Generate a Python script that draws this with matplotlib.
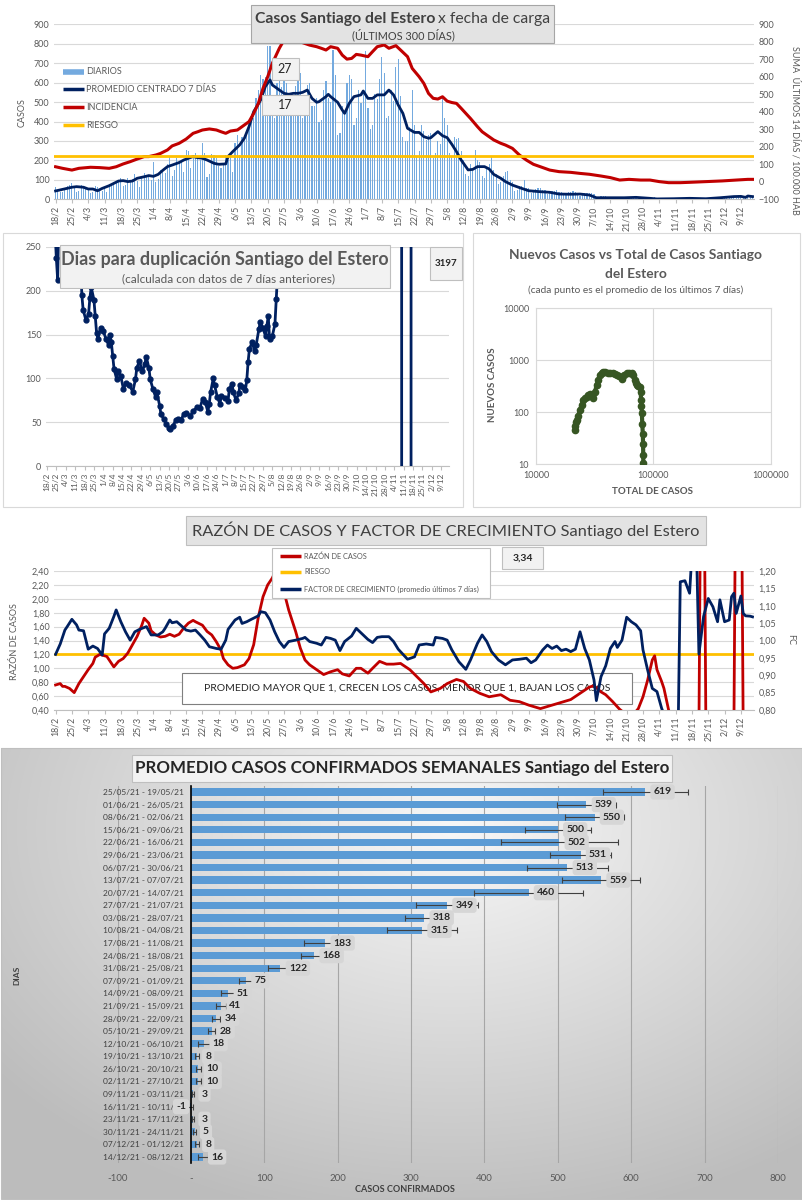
import numpy as np
import pandas as pd
import matplotlib
matplotlib.use('Agg')
import matplotlib.pyplot as plt
from matplotlib.patches import Rectangle
from matplotlib.lines import Line2D
from matplotlib.ticker import FuncFormatter, NullLocator

plt.rcParams['font.family'] = ['Lato', 'DejaVu Sans']

# ---------------- datos ----------------
inicio = '2021-02-18'
n_dias = 300

# casos diarios (barras), desde 18/2
diarios = [62, 48, 35, 40, 58, 68,
           72, 85, 60, 40, 42, 75, 60,
           55, 48, 30, 38, 70, 62, 50,
           45, 58, 40, 62, 78, 88, 85,
           100, 110, 70, 72, 108, 100, 105,
           130, 95, 65, 110, 135, 125, 120,
           100, 190, 88, 105, 150, 140, 135,
           180, 215, 120, 150, 210, 195, 190,
           140, 255, 250, 160, 230, 240, 225,
           200, 290, 240, 115, 130, 235, 230,
           210, 170, 160, 175, 230, 200, 215,
           140, 290, 330, 230, 320, 310, 330,
           380, 400, 420, 520, 560, 640, 620,
           630, 790, 790, 450, 420, 600, 650,
           580, 620, 600, 430, 440, 520, 583,
           680, 650, 420, 430, 590, 600, 480,
           480, 520, 400, 410, 560, 610, 520,
           500, 770, 640, 330, 340, 480, 454,
           600, 640, 620, 380, 420, 560, 497,
           560, 765, 470, 360, 380, 540, 516,
           620, 730, 650, 420, 430, 560, 503,
           680, 720, 530, 320, 300, 300, 370,
           560, 380, 220, 250, 380, 350, 303,
           330, 340, 210, 240, 300, 286, 520,
           420, 380, 240, 220, 320, 310, 315,
           250, 200, 130, 120, 180, 150, 251,
           200, 190, 120, 110, 160, 180, 216,
           150, 130, 80, 90, 120, 140, 144,
           100, 90, 45, 50, 70, 70, 100,
           60, 58, 30, 35, 55, 60, 59,
           50, 48, 25, 30, 45, 42, 47,
           40, 38, 20, 25, 38, 35, 42,
           35, 30, 15, 22, 32, 30, 32,
           30, 25, 10, 12, 15, 18, 16,
           10, 8, 4, 6, 10, 8, 10,
           12, 10, 6, 7, 12, 11, 12,
           14, 12, 6, 7, 10, 9, 12,
           5, 4, 1, 2, 3, 3, 3,
           2, 1, -15, 1, 1, 2, 1,
           5, 3, 2, 2, 4, 3, 2,
           6, 5, 3, 4, 6, 5, 6,
           10, 9, 5, 6, 10, 8, 8,
           20, 18, 10, 12, 22, 16, 14]

# promedio centrado 7 dias (dia, valor)
prom_dias = [0, 3, 7, 9, 12, 14, 16, 18, 20, 23, 25, 27, 29, 31, 33, 35, 38, 40, 42, 44,
             46, 48, 50, 53, 55, 57, 59, 61, 63, 65, 68, 70, 73, 74, 76, 79, 81, 83, 85, 88,
             90, 92, 93, 96, 98, 100, 102, 104, 106, 108, 110, 112, 113, 116, 117, 118, 121, 123, 124, 126,
             128, 131, 132, 134, 136, 138, 141, 143, 145, 147, 149, 151, 154, 156, 158, 160, 161, 164, 166, 168,
             170, 172, 174, 177, 179, 181, 184, 186, 188, 191, 193, 196, 200, 203, 208, 212, 216, 221, 225, 229,
             232, 236, 244, 249, 255, 258, 265, 272, 279, 285, 291, 294, 296, 297, 299]
prom_vals = [43, 51, 62, 65, 62, 53, 53, 44, 56, 70, 82, 94, 96, 91, 94, 108, 116, 122, 118, 128,
             149, 168, 176, 189, 202, 211, 220, 214, 211, 202, 185, 180, 182, 220, 245, 280, 314, 374, 451, 511,
             580, 614, 588, 562, 545, 540, 545, 545, 550, 562, 519, 499, 502, 528, 540, 528, 499, 459, 442, 494,
             528, 537, 557, 519, 519, 537, 537, 562, 537, 485, 442, 365, 344, 344, 322, 314, 317, 348, 327, 317,
             283, 245, 202, 151, 154, 168, 168, 156, 128, 108, 91, 73, 56, 44, 39, 36, 27, 26, 27, 22,
             8, 8, 8, 10, 5, 2, 3, 5, 3, 8, 14, 15, 10, 17, 14]

# incidencia: suma 14 dias / 100.000 hab (dia, valor)
incid_dias = [0, 3, 7, 10, 15, 19, 23, 26, 29, 32, 35, 38, 40, 43, 45, 48, 50, 53, 56, 59,
              61, 63, 66, 69, 71, 73, 75, 78, 80, 83, 85, 87, 89, 91, 93, 96, 98, 100, 102, 104,
              106, 109, 112, 114, 116, 118, 121, 123, 125, 127, 129, 131, 134, 136, 138, 141, 143, 146, 148, 151,
              153, 156, 158, 160, 162, 164, 166, 168, 170, 172, 174, 176, 178, 181, 183, 185, 188, 191, 193, 196,
              199, 202, 205, 208, 212, 216, 221, 225, 229, 234, 238, 242, 246, 251, 255, 259, 263, 268, 272, 279,
              286, 292, 297, 299]
incid_vals = [86, 77, 67, 77, 83, 81, 77, 86, 102, 115, 130, 144, 144, 153, 162, 182, 205, 220, 244, 277,
              286, 296, 302, 296, 286, 277, 290, 296, 315, 344, 391, 448, 534, 600, 677, 763, 810, 840, 850, 830,
              795, 781, 772, 763, 753, 772, 763, 724, 701, 705, 728, 724, 715, 744, 772, 782, 763, 778, 753, 715,
              648, 600, 562, 505, 477, 473, 486, 461, 453, 448, 420, 391, 362, 315, 286, 267, 239, 220, 210, 191,
              153, 124, 100, 86, 67, 58, 54, 48, 43, 33, 24, 10, 14, 10, 10, 1, -5, -5, -3, 1,
              5, 10, 14, 14]
riesgo_incid = 150
etiquetas_sup = ['27', '17']

# dias para duplicacion (dia, valor)
dup_dias = [5, 7, 8, 9, 15, 20, 24, 26, 27, 29, 31, 32, 33, 35, 36, 37, 38, 40, 42, 44,
            46, 47, 48, 49, 50, 52, 53, 55, 57, 59, 61, 64, 66, 67, 69, 71, 73, 74, 76, 77,
            79, 81, 82, 84, 85, 87, 89, 91, 92, 94, 96, 98, 100, 102, 104, 107, 109, 112, 114, 116,
            118, 120, 121, 122, 124, 125, 127, 129, 130, 133, 135, 136, 138, 139, 141, 143, 144, 146, 148, 149,
            150, 151, 153, 155, 156, 158, 159, 161, 163, 164, 165, 166, 168, 170, 171, 172, 173, 175, 190, 220,
            250, 264, 265, 271, 272, 285, 299]
dup_vals = [300, 237, 212, 300, 320, 300, 280, 195, 178, 167, 173, 192, 204, 190, 171, 152, 145, 158, 154, 145,
            138, 150, 141, 126, 111, 99, 108, 103, 88, 95, 93, 85, 99, 112, 120, 108, 116, 125, 112, 99,
            88, 79, 84, 69, 59, 54, 48, 43, 42, 46, 52, 54, 53, 59, 61, 57, 63, 67, 66, 76,
            73, 62, 71, 84, 100, 92, 79, 71, 80, 78, 74, 88, 94, 84, 75, 83, 93, 90, 87, 98,
            119, 134, 141, 131, 138, 156, 164, 158, 148, 160, 171, 145, 148, 162, 191, 221, 244, 300, 600, 1500,
            4000, 9000, -9000, -9000, 9000, 5000, 3197]
dup_ultimo = '3197'

# nuevos casos vs total (promedio 7 dias)
sc_total = [21500, 21700, 22000, 22200, 22900, 23700, 24500, 25300, 26200, 27100, 28000, 28900, 29800, 30800,
            31800, 32900, 34000, 35100, 36200, 37400, 39000, 40800, 42800, 45000, 46900, 48800, 51000, 53800,
            56500, 59300, 62300, 65400, 67600, 69800, 71000, 72300, 74600, 77000, 78000, 78600, 79200, 79800,
            80500, 81300, 81700, 82000, 82100]
sc_nuevos = [46, 55, 66, 71, 85, 111, 140, 173, 190, 199, 215, 225, 210, 186,
             250, 334, 420, 522, 580, 604, 590, 575, 566, 560, 545, 522, 500, 430,
             520, 566, 570, 580, 520, 419, 360, 334, 320, 300, 250, 173, 130, 95,
             60, 39, 25, 15, 10.5]

# razon de casos (dia, valor)
razon_dias = [0, 2, 3, 4, 6, 8, 10, 12, 14, 16, 17, 19, 22, 25, 27, 29, 31, 33, 35, 37,
              38, 40, 41, 43, 45, 47, 49, 51, 53, 55, 57, 59, 60, 63, 65, 67, 69, 71, 72, 74,
              76, 78, 81, 83, 85, 87, 89, 91, 93, 95, 97, 98, 100, 103, 105, 107, 109, 112, 115, 118,
              121, 123, 126, 129, 131, 134, 136, 139, 142, 145, 148, 152, 155, 158, 161, 165, 168, 172, 175, 178,
              182, 186, 191, 195, 199, 203, 208, 212, 216, 221, 225, 229, 231, 234, 236, 239, 242, 245, 248, 250,
              252, 254, 256, 257, 258, 260, 261, 263, 266, 270, 276, 277, 278, 279, 280, 285, 290, 291, 292, 294,
              295, 297, 299]
razon_vals = [0.76, 0.78, 0.74, 0.74, 0.71, 0.65, 0.78, 0.88, 0.98, 1.07, 1.16, 1.20, 1.17, 1.02, 1.10, 1.14, 1.22, 1.34, 1.46, 1.62,
              1.72, 1.65, 1.54, 1.48, 1.45, 1.46, 1.49, 1.46, 1.49, 1.58, 1.65, 1.69, 1.67, 1.62, 1.53, 1.48, 1.38, 1.26, 1.14, 1.05,
              1.00, 1.01, 1.05, 1.14, 1.34, 1.74, 2.03, 2.20, 2.30, 2.45, 2.30, 2.10, 1.84, 1.53, 1.29, 1.12, 1.05, 0.98, 0.91, 0.95,
              0.98, 0.92, 0.89, 1.00, 1.00, 0.93, 1.00, 1.10, 1.06, 1.06, 1.07, 0.98, 0.88, 0.78, 0.66, 0.71, 0.78, 0.84, 0.81, 0.71,
              0.64, 0.59, 0.62, 0.54, 0.52, 0.47, 0.42, 0.46, 0.50, 0.55, 0.64, 0.73, 0.75, 0.66, 0.62, 0.52, 0.41, 0.33, 0.34, 0.42,
              0.59, 0.83, 1.12, 1.18, 0.98, 0.81, 0.71, 0.40, 0.20, 0.15, 0.10, 5.0, 5.0, 0.10, 0.15, 0.20, 0.15, 0.10, 5.0, 5.0,
              0.10, 0.20, 0.25]
riesgo_razon = 1.2
razon_ultimo = '3,34'

# factor de crecimiento (dia, valor)
fc_dias = [0, 2, 4, 5, 7, 9, 10, 12, 14, 16, 18, 20, 21, 23, 25, 26, 28, 30, 32, 34,
           36, 39, 41, 44, 46, 47, 49, 50, 52, 54, 56, 58, 60, 62, 64, 66, 69, 71, 73, 74,
           77, 79, 80, 82, 84, 87, 88, 90, 92, 94, 96, 98, 100, 103, 106, 107, 109, 112, 114, 116,
           118, 120, 122, 124, 127, 129, 132, 134, 136, 138, 140, 143, 145, 147, 151, 154, 156, 159, 162, 163,
           166, 168, 170, 173, 176, 178, 181, 183, 185, 187, 190, 193, 196, 199, 202, 204, 206, 209, 211, 213,
           215, 217, 219, 221, 223, 225, 227, 229, 231, 232, 234, 236, 238, 240, 241, 243, 245, 247, 249, 251,
           252, 254, 256, 258, 260, 262, 264, 266, 267, 268, 270, 272, 273, 275, 276, 278, 280, 282, 284, 285,
           287, 289, 290, 291, 292, 294, 295, 296, 298, 299]
fc_vals = [0.96, 0.99, 1.03, 1.04, 1.061, 1.045, 1.03, 1.028, 0.975, 0.984, 0.977, 0.958, 1.019, 1.035, 1.069, 1.088, 1.054, 1.025, 1.001, 1.025,
           1.032, 1.04, 1.016, 1.016, 1.025, 1.035, 1.059, 1.051, 1.054, 1.042, 1.03, 1.027, 1.03, 1.016, 1.001, 0.982, 0.977, 0.975, 1.001, 1.032,
           1.059, 1.067, 1.049, 1.054, 1.061, 1.071, 1.083, 1.08, 1.059, 1.025, 0.997, 0.98, 0.997, 1.001, 1.006, 1.009, 0.997, 0.992, 0.987, 1.009,
           1.006, 1.001, 0.971, 0.997, 1.013, 1.035, 1.016, 1.003, 0.994, 1.009, 1.011, 1.011, 0.997, 0.975, 0.946, 0.953, 0.987, 0.99, 0.987, 1.009,
           1.006, 1.001, 0.973, 0.939, 0.917, 0.944, 0.992, 1.016, 0.997, 0.968, 0.944, 0.93, 0.944, 0.946, 0.949, 0.936, 0.944, 0.973, 0.987, 0.977,
           0.984, 0.971, 0.975, 0.968, 0.975, 1.025, 0.977, 0.944, 0.886, 0.827, 0.896, 0.927, 0.977, 0.997, 0.98, 1.001, 1.067, 1.054, 1.045, 1.028,
           0.973, 0.915, 0.862, 0.853, 0.805, 0.77, 0.70, 0.65, 0.70, 1.169, 1.172, 1.136, 1.25, 1.25, 0.961, 1.069, 1.121, 1.097, 1.054, 1.117,
           1.054, 1.059, 1.126, 1.136, 1.078, 1.128, 1.078, 1.071, 1.07, 1.068]

# promedio semanal
semanas = ['25/05/21 - 19/05/21', '01/06/21 - 26/05/21', '08/06/21 - 02/06/21', '15/06/21 - 09/06/21',
           '22/06/21 - 16/06/21', '29/06/21 - 23/06/21', '06/07/21 - 30/06/21', '13/07/21 - 07/07/21',
           '20/07/21 - 14/07/21', '27/07/21 - 21/07/21', '03/08/21 - 28/07/21', '10/08/21 - 04/08/21',
           '17/08/21 - 11/08/21', '24/08/21 - 18/08/21', '31/08/21 - 25/08/21', '07/09/21 - 01/09/21',
           '14/09/21 - 08/09/21', '21/09/21 - 15/09/21', '28/09/21 - 22/09/21', '05/10/21 - 29/09/21',
           '12/10/21 - 06/10/21', '19/10/21 - 13/10/21', '26/10/21 - 20/10/21', '02/11/21 - 27/10/21',
           '09/11/21 - 03/11/21', '16/11/21 - 10/11/21', '23/11/21 - 17/11/21', '30/11/21 - 24/11/21',
           '07/12/21 - 01/12/21', '14/12/21 - 08/12/21']
prom_sem = [619, 539, 550, 500, 502, 531, 513, 559, 460, 349, 318, 315, 183, 168, 122, 75,
            51, 41, 34, 28, 18, 8, 10, 10, 3, -1, 3, 5, 8, 16]
err_sem = [58, 40, 40, 45, 80, 42, 55, 53, 74, 42, 26, 48, 29, 18, 17, 10,
           10, 7, 6, 5, 8, 3, 3, 3, 1, 4, 1, 2, 3, 7]

# ---------------- figura ----------------
W, H = 803, 1200
fig = plt.figure(figsize=(W / 100, H / 100), dpi=100)
rend = fig.canvas.get_renderer()

GRIS = '#595959'
AZUL = '#002060'
ROJO = '#C00000'
AMAR = '#FFC000'


def ejes(l, t, r, b):
    return fig.add_axes([l / W, 1 - b / H, (r - l) / W, (b - t) / H])


def caja(l, t, r, b, fc='#e7e6e6', ec='#bfbfbf', lw=0.8, z=1):
    fig.add_artist(Rectangle((l / W, 1 - b / H), (r - l) / W, (b - t) / H,
                             transform=fig.transFigure, fc=fc, ec=ec, lw=lw, zorder=z))


def texto(x, y, s, **kw):
    return fig.text(x / W, 1 - y / H, s, **kw)


def linea(x0, x1, y, color, lw=2.5, z=3):
    fig.add_artist(Line2D([x0 / W, x1 / W], [1 - y / H, 1 - y / H], transform=fig.transFigure,
                          color=color, lw=lw, zorder=z, solid_capstyle='butt'))


def ajustar(t, ancho):
    w = t.get_window_extent(rend).width
    t.set_fontsize(t.get_fontsize() * ancho / w)


fechas = pd.date_range(inicio, periods=n_dias)
dias = np.arange(n_dias)
ticks = np.arange(0, n_dias, 7)
tick_lab = [f'{d.day}/{d.month}' for d in fechas[ticks]]


def eje_fechas(ax, size=6.3):
    ax.set_xlim(-0.5, n_dias - 0.5)
    ax.set_xticks(ticks)
    ax.set_xticklabels(tick_lab, rotation=90, fontsize=size, color=GRIS)
    ax.tick_params(axis='x', length=3, color='#bfbfbf', pad=2)
    for s in ['top', 'right', 'left']:
        ax.spines[s].set_visible(False)
    ax.spines['bottom'].set_color('#bfbfbf')


# ===== panel 1: casos diarios =====
ax1 = ejes(54.4, 24.3, 753.7, 199.3)
ax1.bar(dias, diarios, width=0.5, color='#74AADF', zorder=2)
ax1.plot(prom_dias, prom_vals, color=AZUL, lw=2, zorder=3)
ax1.set_ylim(0, 900)
ax1.set_yticks(range(0, 901, 100))
ax1.grid(axis='y', color='#d9d9d9', lw=0.8)
ax1.set_axisbelow(True)
eje_fechas(ax1)
ax1.tick_params(axis='y', length=0, labelsize=6.5, labelcolor=GRIS)
ax1b = ax1.twinx()
ax1b.plot(incid_dias, incid_vals, color=ROJO, lw=2.2, zorder=3)
ax1b.axhline(riesgo_incid, color=AMAR, lw=2, zorder=4)
ax1b.set_ylim(-100, 900)
ax1b.set_yticks(range(-100, 901, 100))
ax1b.tick_params(axis='y', length=0, labelsize=6.5, labelcolor=GRIS)
for s in ax1b.spines.values():
    s.set_visible(False)
texto(22, 113, 'CASOS', rotation=90, ha='center', va='center', fontsize=6.5, color=GRIS)
texto(795, 130, 'SUMA  ÚLTIMOS 14 DÍAS / 100.000 HAB', rotation=270, ha='center', va='center',
      fontsize=6.5, color=GRIS)

caja(251, 5, 554, 43, fc='#e3e3e3', ec='#a6a6a6')
t1 = texto(255, 18.5, 'Casos Santiago del Estero', ha='left', va='center', fontsize=11,
           weight='bold', color='#404040', zorder=5)
ajustar(t1, 179)
t2 = texto(438, 18.5, 'x fecha de carga', ha='left', va='center', fontsize=11, color='#404040', zorder=5)
ajustar(t2, 112)
t3 = texto(403, 35, '(ÚLTIMOS 300 DÍAS)', ha='center', va='center', fontsize=7, color='#404040', zorder=5)
ajustar(t3, 102)

caja(271.5, 58, 299, 80, fc='#f2f2f2', ec='#bfbfbf')
texto(285, 69, etiquetas_sup[0], ha='center', va='center', fontsize=9, color='#262626', zorder=5)
caja(262, 95, 309, 115, fc='#f2f2f2', ec='#bfbfbf')
texto(285.5, 105, etiquetas_sup[1], ha='center', va='center', fontsize=9, color='#262626', zorder=5)

ley1 = [('DIARIOS', '#74AADF', 72), ('PROMEDIO CENTRADO 7 DÍAS', AZUL, 89),
        ('INCIDENCIA', ROJO, 107), ('RIESGO', AMAR, 125)]
for nom, col, yy in ley1:
    linea(63, 84, yy, col, lw=4 if nom == 'DIARIOS' else 2.5)
    texto(86, yy, nom, ha='left', va='center', fontsize=6.5, color=GRIS)

# ===== panel 2: dias para duplicacion =====
caja(3, 233, 463, 507, fc='none', ec='#d9d9d9', z=0.5)
ax2 = ejes(46.3, 247, 448.6, 466)
ax2.plot(dup_dias, dup_vals, color=AZUL, lw=2, marker='o', ms=3.5, zorder=3)
ax2.set_ylim(0, 250)
ax2.set_yticks(range(0, 251, 50))
ax2.grid(axis='y', color='#d9d9d9', lw=0.8)
ax2.set_axisbelow(True)
eje_fechas(ax2, size=6)
ax2.tick_params(axis='y', length=0, labelsize=6.5, labelcolor=GRIS)
caja(60, 245, 390, 288, fc='#f2f2f2', ec='#bfbfbf')
t = texto(225, 259, 'Dias para duplicación Santiago del Estero', ha='center', va='center',
          fontsize=13, weight='bold', color=GRIS, zorder=5)
ajustar(t, 328)
t = texto(228, 279, '(calculada con datos de 7 días anteriores)', ha='center', va='center',
          fontsize=8, color=GRIS, zorder=5)
ajustar(t, 214)
caja(430, 247, 462, 280, fc='#f2f2f2', ec='#bfbfbf')
texto(446, 263.5, dup_ultimo, ha='center', va='center', fontsize=7, weight='bold', color='#262626')

# ===== panel 3: nuevos vs total =====
caja(473, 233, 800, 507, fc='none', ec='#d9d9d9', z=0.5)
t = texto(636, 255, 'Nuevos Casos vs Total de Casos Santiago', ha='center', va='center',
          fontsize=10, weight='bold', color=GRIS)
ajustar(t, 252)
t4 = texto(636, 274, 'del Estero', ha='center', va='center', fontsize=t.get_fontsize(),
           weight='bold', color=GRIS)
t = texto(636, 290, '(cada punto es el promedio de los últimos 7 días)', ha='center', va='center',
          fontsize=6.5, color=GRIS)
ajustar(t, 215)
ax3 = ejes(536, 308.3, 770.7, 464.3)
ax3.plot(sc_total, sc_nuevos, color='#375623', lw=3, marker='o', ms=4.5, zorder=3)
ax3.set_xscale('log')
ax3.set_yscale('log')
ax3.set_xlim(1e4, 1e6)
ax3.set_ylim(10, 1e4)
ax3.set_xticks([1e4, 1e5, 1e6])
ax3.set_xticklabels(['10000', '100000', '1000000'])
ax3.set_yticks([10, 100, 1000, 10000])
ax3.set_yticklabels(['10', '100', '1000', '10000'])
ax3.xaxis.set_minor_locator(NullLocator())
ax3.yaxis.set_minor_locator(NullLocator())
ax3.grid(color='#d9d9d9', lw=0.8)
ax3.set_axisbelow(True)
ax3.tick_params(length=0, labelsize=6.5, labelcolor=GRIS, pad=5)
for s in ax3.spines.values():
    s.set_color('#d9d9d9')
texto(653, 492, 'TOTAL DE CASOS', ha='center', va='center', fontsize=7, weight='bold', color=GRIS)
texto(493, 385, 'NUEVOS CASOS', ha='center', va='center', rotation=90, fontsize=7, weight='bold', color=GRIS)

# ===== panel 4: razon y factor de crecimiento =====
ax4 = ejes(54.4, 571, 753.7, 710)
ax4.patch.set_visible(False)
ax4.plot(razon_dias, razon_vals, color=ROJO, lw=2, zorder=3)
ax4.axhline(riesgo_razon, color=AMAR, lw=2, zorder=2.5)
ax4.set_ylim(0.4, 2.4)
ax4.set_yticks(np.arange(0.4, 2.41, 0.2))
ax4.yaxis.set_major_formatter(FuncFormatter(lambda v, p: f'{v:.2f}'.replace('.', ',')))
ax4.grid(axis='y', color='#d9d9d9', lw=0.8, zorder=0.5)
ax4.set_axisbelow(True)
eje_fechas(ax4)
ax4.tick_params(axis='y', length=0, labelsize=6.5, labelcolor=GRIS)
ax4.add_patch(Rectangle((182 / W, 1 - 704 / H), 450 / W, 31 / H, transform=fig.transFigure,
                        fc='white', ec='#7f7f7f', lw=0.8, zorder=1.5, clip_on=False))
ax4.text(407 / W, 1 - 688.5 / H, 'PROMEDIO MAYOR QUE 1, CRECEN LOS CASOS, MENOR QUE 1, BAJAN LOS CASOS',
         transform=fig.transFigure, ha='center', va='center', fontsize=7.5, color='#262626', zorder=1.6)
ax4b = ax4.twinx()
ax4b.plot(fc_dias, fc_vals, color=AZUL, lw=2, zorder=3)
ax4b.set_ylim(0.8, 1.2)
ax4b.set_yticks(np.arange(0.8, 1.201, 0.05))
ax4b.yaxis.set_major_formatter(FuncFormatter(lambda v, p: f'{v:.2f}'.replace('.', ',')))
ax4b.tick_params(axis='y', length=0, labelsize=6.5, labelcolor=GRIS)
for s in ax4b.spines.values():
    s.set_visible(False)
texto(15, 642, 'RAZÓN DE CASOS', rotation=90, ha='center', va='center', fontsize=6.5, color=GRIS)
texto(791, 640, 'FC', rotation=270, ha='center', va='center', fontsize=6.5, color=GRIS)

caja(186, 516, 706, 545, fc='#e3e3e3', ec='#bfbfbf')
t = texto(446, 530.5, 'RAZÓN DE CASOS Y FACTOR DE CRECIMIENTO Santiago del Estero', ha='center',
          va='center', fontsize=14, color='#404040', zorder=5)
ajustar(t, 505)
caja(272, 548, 490, 598, fc='white', ec='#bfbfbf', z=2)
ley4 = [('RAZÓN DE CASOS', ROJO, 556), ('RIESGO', AMAR, 572),
        ('FACTOR DE CRECIMIENTO (promedio últimos 7 días)', AZUL, 589)]
for nom, col, yy in ley4:
    linea(280, 301, yy, col, lw=2.5, z=3)
    texto(304, yy, nom, ha='left', va='center', fontsize=5.3, color=GRIS)
caja(502, 547, 543, 569, fc='#f2f2f2', ec='#bfbfbf')
texto(522.5, 558, razon_ultimo, ha='center', va='center', fontsize=7.5, weight='bold', color='#262626')

# ===== panel 5: promedio semanal =====
axf = ejes(1, 748, 802, 1199)
yy, xx = np.mgrid[0:451, 0:801]
r = np.sqrt(((xx - 450) / 650.0) ** 2 + ((yy - 80) / 450.0) ** 2)
gris = np.clip(0.97 - 0.26 * r, 0.74, 1)
axf.imshow(np.dstack([gris, gris, gris]), aspect='auto', extent=(0, 1, 0, 1), interpolation='bilinear')
axf.set_xlim(0, 1)
axf.set_ylim(0, 1)
axf.axis('off')
caja(1, 748, 802, 1199, fc='none', ec='#bfbfbf', z=0.5)

# tamaño de las etiquetas de semana: ancho medido en la referencia
tmp = texto(0, 0, semanas[0], fontsize=7)
ajustar(tmp, 81)
tam_sem = tmp.get_fontsize()
tmp.remove()

axb = ejes(117.6, 785.7, 778, 1163.3)
axb.patch.set_visible(False)
pos = np.arange(len(semanas))
axb.barh(pos, prom_sem, height=0.58, color='#5B9BD5', xerr=err_sem, zorder=2,
         error_kw=dict(ecolor='#404040', elinewidth=0.8, capsize=2, capthick=0.8, zorder=2.5))
axb.set_xlim(-100, 800)
axb.set_ylim(len(semanas) - 0.5, -0.5)
axb.set_xticks(range(-100, 801, 100))
axb.set_xticklabels(['-100', '-'] + [str(v) for v in range(100, 801, 100)])
axb.grid(axis='x', color='#a6a6a6', lw=0.8)
axb.set_axisbelow(True)
axb.set_yticks(pos)
axb.set_yticklabels(semanas)
axb.tick_params(axis='x', length=0, labelsize=7, labelcolor=GRIS, pad=8)
axb.tick_params(axis='y', length=0, labelsize=tam_sem, labelcolor='#404040', pad=5)
for s in ['top', 'right', 'bottom']:
    axb.spines[s].set_visible(False)
axb.spines['left'].set_position(('data', 0))
axb.spines['left'].set_color('black')
axb.spines['left'].set_linewidth(1.2)
for i, v in enumerate(prom_sem):
    dx, ha = (6, 'left') if v >= 0 else (-3, 'right')
    axb.annotate(str(v), (v, i), xytext=(dx, 0), textcoords='offset points', ha=ha, va='center',
                 fontsize=7.5, weight='bold', color='#262626', zorder=4,
                 bbox=dict(boxstyle='round,pad=0.3', fc='#d6d6d6', ec='none'))

caja(132, 755, 672, 782, fc='#f2f2f2', ec='#bfbfbf')
t = texto(402, 768.5, 'PROMEDIO CASOS CONFIRMADOS SEMANALES Santiago del Estero', ha='center',
          va='center', fontsize=13, weight='bold', color='#262626', zorder=5)
ajustar(t, 533)
texto(405, 1189, 'CASOS CONFIRMADOS', ha='center', va='center', fontsize=6.5, weight='bold', color='#404040')
texto(17, 975, 'DIAS', rotation=90, ha='center', va='center', fontsize=6, weight='bold', color='#404040')

fig.savefig('out.png', dpi=100)
